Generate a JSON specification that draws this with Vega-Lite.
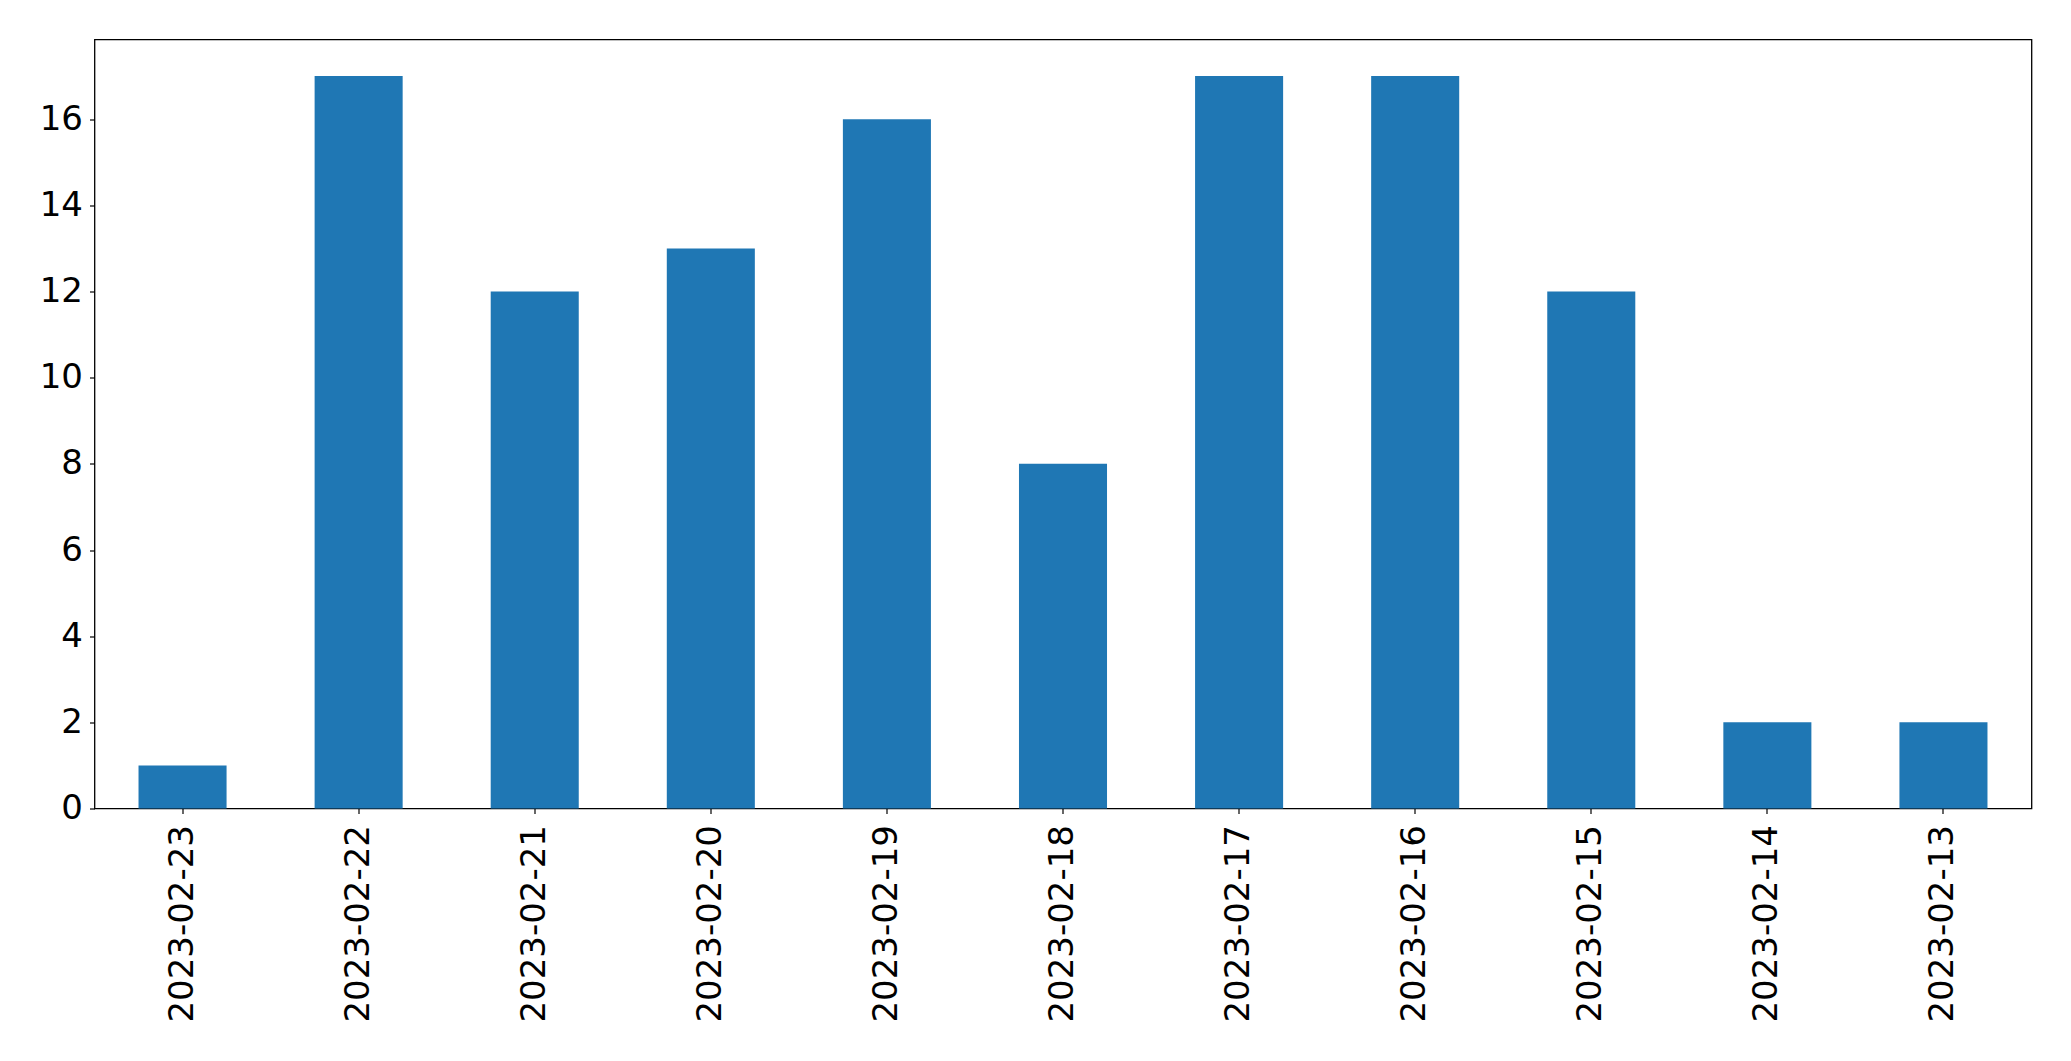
{
  "$schema": "https://vega.github.io/schema/vega-lite/v6.json",
  "autosize": "none",
  "width": 1937,
  "height": 769,
  "padding": {"left": 94.5, "top": 39.5, "right": 39, "bottom": 252},
  "background": "white",
  "config": {
    "view": {"stroke": "black", "strokeWidth": 1.3},
    "font": "DejaVu Sans",
    "axis": {
      "grid": false,
      "domain": false,
      "tickColor": "black",
      "tickSize": 5,
      "tickWidth": 1.2,
      "labelColor": "black",
      "labelFont": "DejaVu Sans",
      "labelFontSize": 34,
      "labelLimit": 0,
      "title": null
    }
  },
  "data": {
    "values": [
      {"date": "2023-02-23", "count": 1},
      {"date": "2023-02-22", "count": 17},
      {"date": "2023-02-21", "count": 12},
      {"date": "2023-02-20", "count": 13},
      {"date": "2023-02-19", "count": 16},
      {"date": "2023-02-18", "count": 8},
      {"date": "2023-02-17", "count": 17},
      {"date": "2023-02-16", "count": 17},
      {"date": "2023-02-15", "count": 12},
      {"date": "2023-02-14", "count": 2},
      {"date": "2023-02-13", "count": 2}
    ]
  },
  "mark": {"type": "bar", "color": "#1f77b4"},
  "encoding": {
    "x": {
      "field": "date",
      "type": "nominal",
      "sort": null,
      "scale": {"paddingInner": 0.5, "paddingOuter": 0.25},
      "axis": {"labelAngle": 270, "labelAlign": "right", "labelBaseline": "middle", "labelPadding": 11}
    },
    "y": {
      "field": "count",
      "type": "quantitative",
      "scale": {"domain": [0, 17.85], "nice": false, "zero": true},
      "axis": {"values": [0, 2, 4, 6, 8, 10, 12, 14, 16], "labelPadding": 7}
    }
  }
}
